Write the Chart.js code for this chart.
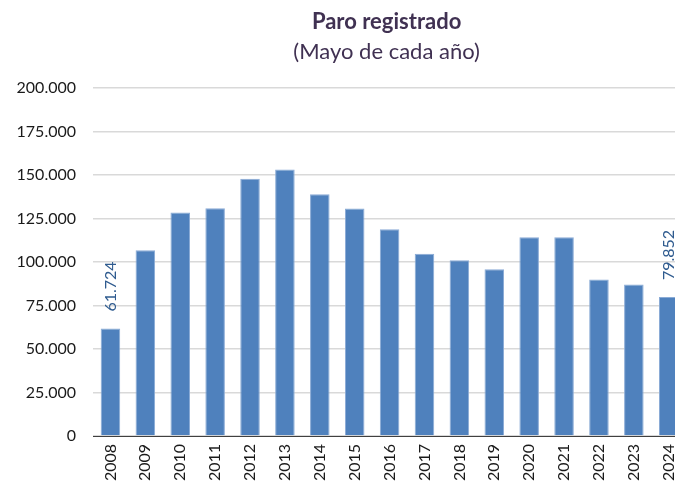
<!DOCTYPE html>
<html>
<head>
<meta charset="utf-8">
<title>Paro registrado</title>
<script src="https://cdn.jsdelivr.net/npm/chart.js@4/dist/chart.umd.min.js"></script>
<style>
  html, body { margin: 0; padding: 0; background: #fff; overflow: hidden; }
  #wrap { width: 696px; height: 487px; }
</style>
</head>
<body>
<div id="wrap"><canvas id="myChart" width="696" height="487"></canvas></div>
<script>
// Paro registrado, mayo de cada año
const years = ["2008", "2009", "2010", "2011", "2012", "2013", "2014", "2015", "2016",
               "2017", "2018", "2019", "2020", "2021", "2022", "2023", "2024"];
const parados = [61724, 106700, 128400, 130900, 147900, 153100, 139000, 130700, 118800,
                 104800, 101000, 95800, 114200, 114200, 90000, 87000, 79852];
// only first and last bar carry a label
const labelledBars = [0, 16];
const yTicks = [0, 25000, 50000, 75000, 100000, 125000, 150000, 175000, 200000];

function miles(v) {
    return String(v).replace(/\B(?=(\d{3})+(?!\d))/g, ".");
}

const titlePlugin = {
    id: 'titles',
    afterDraw(chart) {
        const ctx = chart.ctx;
        const cx = (chart.chartArea.left + chart.chartArea.right) / 2 - 3;
        ctx.save();
        ctx.fillStyle = '#403152';
        ctx.textAlign = 'center';
        ctx.textBaseline = 'middle';
        ctx.font = 'bold 22px Lato';
        ctx.fillText('Paro registrado', cx, 22);
        ctx.font = '22px Lato';
        ctx.fillText('(Mayo de cada año)', cx, 52);
        ctx.restore();
    }
};

const barLabels = {
    id: 'barLabels',
    afterDatasetsDraw(chart) {
        const ctx = chart.ctx;
        const meta = chart.getDatasetMeta(0);
        ctx.save();
        ctx.fillStyle = '#2f5b8f';
        ctx.font = '16px Lato';
        ctx.textAlign = 'left';
        ctx.textBaseline = 'middle';
        labelledBars.forEach(function(i) {
            const bar = meta.data[i];
            ctx.save();
            ctx.translate(bar.x, bar.y - 17);
            ctx.rotate(-Math.PI / 2);
            ctx.fillText(miles(parados[i]), 0, 0);
            ctx.restore();
        });
        ctx.restore();
    }
};

const ctx = document.getElementById('myChart');
const myChart = new Chart(ctx, {
    type: 'bar',
    data: {
        labels: years,
        datasets: [{
            data: parados,
            backgroundColor: '#4f81bd',
            borderColor: '#8aabd6',
            borderWidth: 1,
            barPercentage: 0.56,
            categoryPercentage: 1.0
        }]
    },
    options: {
        responsive: false,
        animation: false,
        layout: { padding: { top: 88, right: 2, left: 0, bottom: 0 } },
        plugins: {
            legend: { display: false },
            tooltip: { enabled: false }
        },
        scales: {
            x: {
                grid: { display: false, drawTicks: false },
                border: { display: true, color: '#404040', width: 1 },
                ticks: {
                    color: '#1a1a1a',
                    font: { family: 'Lato', size: 16 },
                    minRotation: 90,
                    maxRotation: 90,
                    padding: 8
                },
                afterFit(scale) { scale.height = 51; }
            },
            y: {
                min: 0,
                max: 200000,
                afterBuildTicks(scale) {
                    scale.ticks = yTicks.map(function(v) { return { value: v }; });
                },
                grid: { color: '#d9d9d9', lineWidth: 1.5, drawTicks: false },
                border: { display: false },
                ticks: {
                    color: '#1a1a1a',
                    font: { family: 'Lato', size: 16 },
                    padding: 17,
                    callback: function(v) { return miles(v); }
                },
                afterFit(scale) { scale.width = 93; }
            }
        }
    },
    plugins: [titlePlugin, barLabels]
});
</script>
</body>
</html>
